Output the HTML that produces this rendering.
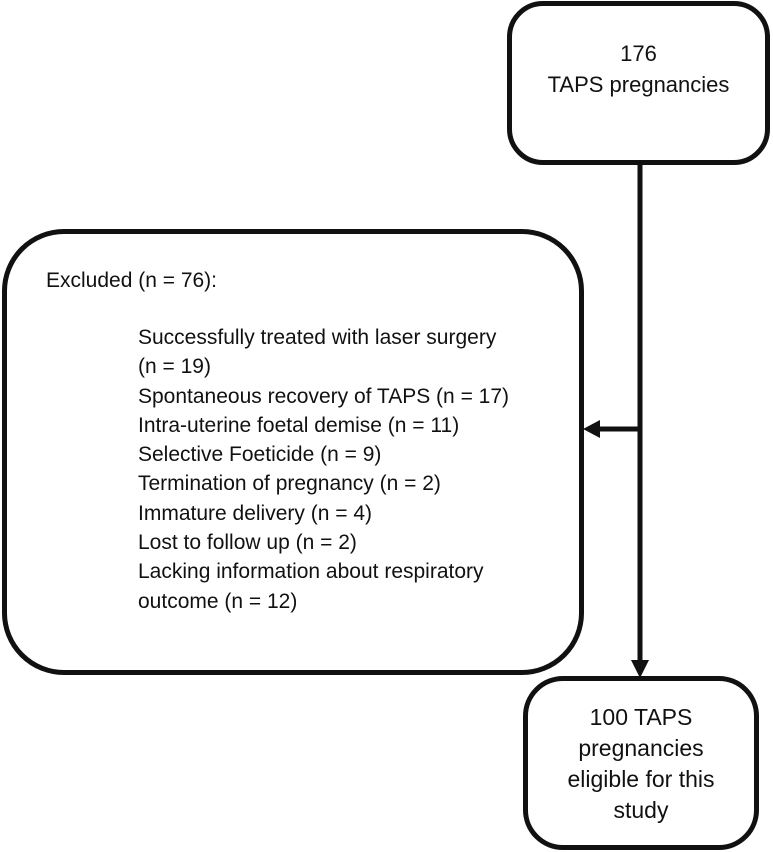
<!DOCTYPE html>
<html><head><meta charset="utf-8"><style>
body{margin:0;width:773px;height:852px;background:#fff;position:relative;overflow:hidden;font-family:"Liberation Sans",Arial,sans-serif;color:#111}
.box{position:absolute;border:5px solid #111;box-sizing:border-box;background:#fff}
.t{position:absolute;white-space:nowrap}
</style></head><body>
<div class="box" style="left:507px;top:1px;width:263px;height:164px;border-radius:36px"></div>
<div class="box" style="left:2px;top:229px;width:582px;height:446px;border-radius:62px"></div>
<div class="box" style="left:523px;top:676px;width:236px;height:174px;border-radius:40px"></div>
<svg style="position:absolute;left:0;top:0" width="773" height="852">
<line x1="640" y1="163" x2="640" y2="662" stroke="#111" stroke-width="5"/>
<polygon points="631,660 649,660 640,678" fill="#111"/>
<line x1="640" y1="429" x2="598" y2="429" stroke="#111" stroke-width="5"/>
<polygon points="600,420 600,438 583,429" fill="#111"/>
</svg>
<div class="t" style="left:507px;width:263px;text-align:center;top:38px;font-size:22px;line-height:31px">176<br>TAPS pregnancies</div>
<div class="t" style="left:523px;width:236px;text-align:center;top:702px;font-size:23px;line-height:31px">100 TAPS<br>pregnancies<br>eligible for this<br>study</div>
<div class="t" style="left:46px;top:269px;font-size:21px">Excluded (n = 76):</div>
<div class="t" style="left:138px;top:323px;font-size:21px;line-height:29.3px">Successfully treated with laser surgery<br>(n = 19)<br>Spontaneous recovery of TAPS (n = 17)<br>Intra-uterine foetal demise (n = 11)<br>Selective Foeticide (n = 9)<br>Termination of pregnancy (n = 2)<br>Immature delivery (n = 4)<br>Lost to follow up (n = 2)<br>Lacking information about respiratory<br>outcome (n = 12)</div>
</body></html>
